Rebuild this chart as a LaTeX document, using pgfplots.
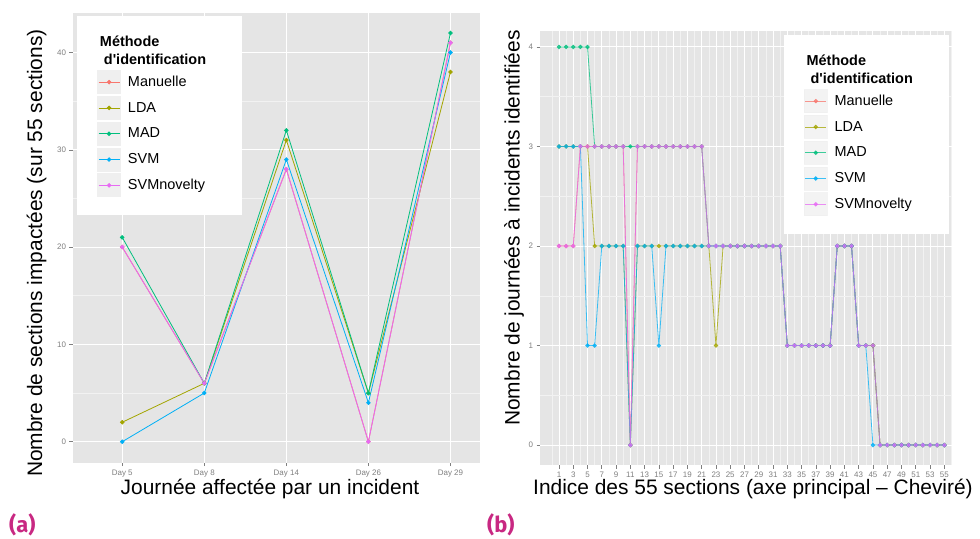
\documentclass[border=0pt]{standalone}
\usepackage{pgfplots}
\usepackage{pgfplotstable}
\pgfplotsset{compat=1.18}
\usepackage{fontspec}
\setmainfont{Liberation Sans}
\newfontfamily\labfont{Fira Sans}

\definecolor{cMan}{HTML}{F8766D}
\definecolor{cLDA}{HTML}{A3A500}
\definecolor{cMAD}{HTML}{00BF7D}
\definecolor{cSVM}{HTML}{00B0F6}
\definecolor{cNov}{HTML}{E76BF3}
\definecolor{panel}{HTML}{E5E5E5}
\definecolor{minorgrid}{HTML}{F2F2F2}
\definecolor{tickgray}{HTML}{7F7F7F}
\definecolor{keybg}{HTML}{EFEFEF}
\definecolor{panlab}{RGB}{200,40,130}

% sections 1..55 (axe principal)
\pgfplotstableread{
x man lda mad svm nov
1 2 3 4 3 2
2 2 3 4 3 2
3 2 3 4 3 2
4 3 3 4 3 3
5 3 3 4 1 3
6 3 2 3 1 3
7 3 2 3 2 3
8 3 2 3 2 3
9 3 2 3 2 3
10 3 2 3 2 3
11 0 0 3 0 0
12 3 2 3 2 3
13 3 2 3 2 3
14 3 2 3 2 3
15 3 2 3 1 3
16 3 2 3 2 3
17 3 2 3 2 3
18 3 2 3 2 3
19 3 2 3 2 3
20 3 2 3 2 3
21 3 2 3 2 3
22 2 2 2 2 2
23 2 1 2 2 2
24 2 2 2 2 2
25 2 2 2 2 2
26 2 2 2 2 2
27 2 2 2 2 2
28 2 2 2 2 2
29 2 2 2 2 2
30 2 2 2 2 2
31 2 2 2 2 2
32 2 2 2 2 2
33 1 1 1 1 1
34 1 1 1 1 1
35 1 1 1 1 1
36 1 1 1 1 1
37 1 1 1 1 1
38 1 1 1 1 1
39 1 1 1 1 1
40 2 2 2 2 2
41 2 2 2 2 2
42 2 2 2 2 2
43 1 1 1 1 1
44 1 1 1 1 1
45 1 1 1 0 1
46 0 0 0 0 0
47 0 0 0 0 0
48 0 0 0 0 0
49 0 0 0 0 0
50 0 0 0 0 0
51 0 0 0 0 0
52 0 0 0 0 0
53 0 0 0 0 0
54 0 0 0 0 0
55 0 0 0 0 0
}\sections

\pgfplotsset{
  gg/.style={
    scale only axis,
    anchor=north west,
    axis background/.style={fill=panel},
    axis x line=bottom, axis y line=left,
    axis line style={draw=none},
    grid=both,
    major grid style={white, line width=0.9bp},
    minor grid style={minorgrid, line width=0.5bp},
    tick align=outside,
    major tick length=3.5bp,
    minor tick length=0pt,
    tick style={tickgray, line width=0.6bp},
    tick label style={font=\fontsize{8}{9}\selectfont, text=tickgray},
    /pgf/number format/assume math mode=true,
    label style={font=\fontsize{21}{24}\selectfont},
    legend cell align=left,
    legend style={draw=none, fill=white, inner xsep=20bp, inner ysep=18bp,
      row sep=2bp, column sep=5bp, font=\fontsize{14.5}{16}\selectfont},
    legend image code/.code={
      \fill[keybg] (0bp,-11.5bp) rectangle (23bp,11.5bp);
      \draw[mark repeat=2,mark phase=2,##1] plot coordinates {(1bp,0bp) (11.5bp,0bp) (22bp,0bp)};
    },
  },
  ser/.style={color=#1, line width=0.8bp, mark=*, mark size=1.8bp,
    mark options={draw=none, fill=#1}},
}
\newcommand{\legtitle}{%
  \addlegendimage{empty legend}
  \addlegendentry{\hspace*{-28bp}\bfseries Méthode}
  \addlegendimage{empty legend}
  \addlegendentry{\hspace*{-24bp}\bfseries d\textquotesingle identification\hspace*{14bp}}}

\begin{document}
\begin{tikzpicture}
\useasboundingbox (0bp,0bp) rectangle (980bp,-539bp);

\begin{axis}[gg, at={(73bp,-13bp)}, width=407bp, height=449.7bp,
  xmin=-0.6, xmax=4.36, ymin=-2.16, ymax=44.06,
  xtick={0,...,4}, xticklabels={Day 5,Day 8,Day 14,Day 26,Day 29},
  minor xtick={},
  ytick={0,10,20,30,40}, minor ytick={5,15,25,35},
  xlabel={Journée affectée par un incident},
  ylabel={Nombre de sections impactées (sur 55 sections)},
  xlabel style={at={(axis description cs:0.484,-0.0696)}, anchor=base},
  ylabel style={at={(axis description cs:-0.0897,0.466)}, anchor=center},
  legend style={at={(0.0098,0.9933)}, anchor=north west},
]
\legtitle
\addplot[ser=cMan] coordinates {(0,20) (1,6) (2,28) (3,0) (4,41)};
\addlegendentry{Manuelle}
\addplot[ser=cLDA] coordinates {(0,2) (1,6) (2,31) (3,5) (4,38)};
\addlegendentry{LDA}
\addplot[ser=cMAD] coordinates {(0,21) (1,6) (2,32) (3,5) (4,42)};
\addlegendentry{MAD}
\addplot[ser=cSVM] coordinates {(0,0) (1,5) (2,29) (3,4) (4,40)};
\addlegendentry{SVM}
\addplot[ser=cNov] coordinates {(0,20) (1,6) (2,28) (3,0) (4,41)};
\addlegendentry{SVMnovelty}
\end{axis}

\begin{axis}[gg, at={(540bp,-31bp)}, width=412bp, height=434bp,
  xmin=-1.66, xmax=56.08, ymin=-0.2, ymax=4.16,
  xtick={1,3,...,55}, minor xtick={0,2,...,56},
  ytick={0,...,4}, minor ytick={0.5,1.5,2.5,3.5},
  xlabel={Indice des 55 sections (axe principal – Cheviré)},
  ylabel={Nombre de journées à incidents identifiées},
  xlabel style={at={(axis description cs:0.517,-0.0691)}, anchor=base},
  ylabel style={at={(axis description cs:-0.0631,0.546)}, anchor=center},
  legend style={at={(0.9927,0.9908)}, anchor=north east},
  every axis plot/.append style={opacity=0.75},
]
\legtitle
\addplot[ser=cMan] table[x=x, y=man] {\sections};
\addlegendentry{Manuelle}
\addplot[ser=cLDA] table[x=x, y=lda] {\sections};
\addlegendentry{LDA}
\addplot[ser=cMAD] table[x=x, y=mad] {\sections};
\addlegendentry{MAD}
\addplot[ser=cSVM] table[x=x, y=svm] {\sections};
\addlegendentry{SVM}
\addplot[ser=cNov] table[x=x, y=nov] {\sections};
\addlegendentry{SVMnovelty}
\end{axis}

\node[anchor=base west, inner sep=0, text=panlab,
  font=\labfont\bfseries\fontsize{22}{24}\selectfont] at (9bp,-532bp) {(a)};
\node[anchor=base west, inner sep=0, text=panlab,
  font=\labfont\bfseries\fontsize{22}{24}\selectfont] at (487bp,-532bp) {(b)};
\end{tikzpicture}
\end{document}
